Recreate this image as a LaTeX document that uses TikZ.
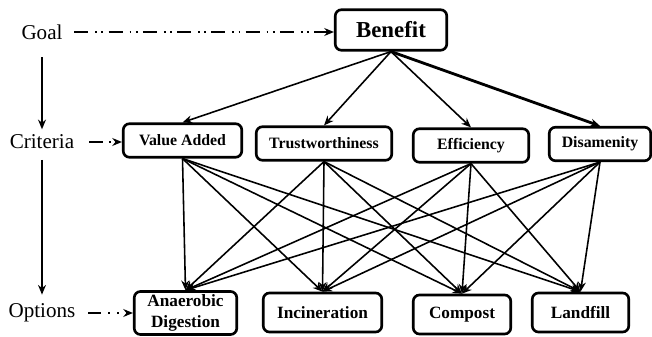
\documentclass[tikz,border=0pt]{standalone}
\usepackage{fontspec}
\setmainfont{Liberation Serif}
\usepackage{xcolor}
\usepackage{tikz}
\usetikzlibrary{positioning, arrows.meta}

\begin{document}
\begin{tikzpicture}[x=0.02cm, y=-0.02cm,
    box/.style={draw, line width=1.5pt, rounded corners=3.5pt, align=center, inner sep=2pt},
    crit/.style={box, font=\fontsize{9}{10}\selectfont\bfseries, minimum height=0.67cm},
    opt/.style={box, font=\fontsize{9.8}{11.5}\selectfont\bfseries, minimum height=0.78cm},
    lvl/.style={font=\fontsize{12}{14}\selectfont, inner sep=1pt},
    link/.style={-{Stealth[length=5.5pt, width=4.5pt]}, line width=0.9pt},
    hint/.style={link, line width=1pt}]
  \useasboundingbox (0,0) rectangle (652,337);

  % levels on the left
  \node[lvl] (goal) at (42,32) {Goal};
  \node[lvl] (crit) at (42,142) {Criteria};
  \node[lvl] (opts) at (42,313) {Options};
  \draw[link, shorten <=9pt, shorten >=2pt] (goal) -- (crit);
  \draw[link, shorten <=5pt, shorten >=4pt] (crit) -- (opts);

  % goal
  \node[box, font=\fontsize{13}{15}\selectfont\bfseries,
        minimum width=2.23cm, minimum height=0.81cm] (benefit) at (391,30) {Benefit};

  % criteria
  \node[crit, minimum width=2.37cm] (value) at (182.5,140.5) {Value Added};
  \node[crit, minimum width=2.71cm] (trust) at (324,143.5) {Trustworthiness};
  \node[crit, minimum width=2.31cm] (effic) at (471,145.5) {Efficiency};
  \node[crit, minimum width=2.03cm] (disam) at (600,144) {Disamenity};

  % options
  \node[opt, minimum width=2.05cm] (anaer) at (185.5,313) {Anaerobic\\Digestion};
  \node[opt, minimum width=2.37cm] (incin) at (322.5,312.5) {Incineration};
  \node[opt, minimum width=1.95cm] (compo) at (462,314.5) {Compost};
  \node[opt, minimum width=1.93cm] (landf) at (580.5,312.5) {Landfill};

  % dash-dot hints
  \draw[hint, shorten <=5.5pt, dash pattern=on 8pt off 4pt on 1pt off 2.5pt on 1pt off 3pt]
    (goal.east) -- (goal.east -| benefit.west);
  \draw[hint, shorten <=7.5pt, dash pattern=on 7.5pt off 3.5pt on 1pt off 20pt]
    (crit.east) -- (crit.east -| value.west);
  \draw[hint, shorten <=6pt, dash pattern=on 7.5pt off 4pt on 1pt off 4pt on 1pt off 20pt]
    (opts.east) -- (opts.east -| anaer.west);

  % benefit to criteria
  \draw[link] (benefit.south) -- (value.north);
  \draw[link] (benefit.south) -- (trust.north);
  \draw[link] (benefit.south) -- (effic.north);
  \draw[link, line width=1.6pt] (benefit.south) -- (disam.north);

  % criteria to options
  \foreach \c in {value, trust, effic, disam}
    \foreach \o in {anaer, incin, compo, landf}
      \draw[link] (\c.south) -- (\o.north);
\end{tikzpicture}
\end{document}
